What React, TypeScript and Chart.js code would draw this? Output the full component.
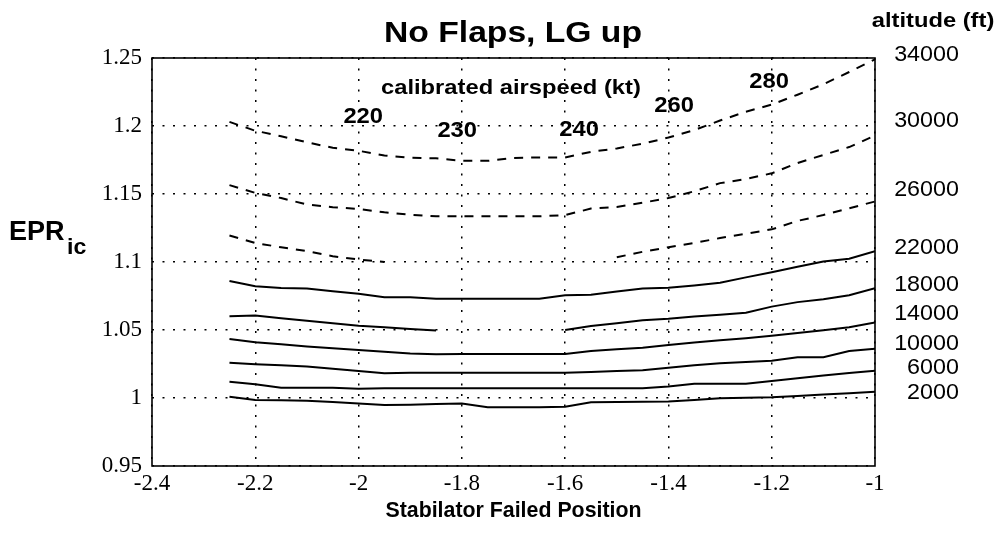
import React, { useEffect, useRef } from "react";
import { Chart, registerables } from "chart.js";

Chart.register(...registerables);

// Stabilator failed position (x)
const STAB_POS = [
  -2.25, -2.2, -2.15, -2.1, -2.05, -2.0, -1.95, -1.9, -1.85, -1.8, -1.75, -1.7, -1.65,
  -1.6, -1.55, -1.5, -1.45, -1.4, -1.35, -1.3, -1.25, -1.2, -1.15, -1.1, -1.05, -1.0,
];

// EPRic per altitude (null = not plotted)
const EPR_34000 = [
  1.203, 1.1965, 1.1925, 1.188, 1.184, 1.1818, 1.1783, 1.1766, 1.1762, 1.1744, 1.1744, 1.1765, 1.1769,
  1.1769, 1.181, 1.1835, 1.187, 1.1915, 1.197, 1.204, 1.2105, 1.2157, 1.223, 1.2307, 1.2397, 1.249,
];
const EPR_30000 = [
  1.1565, 1.1508, 1.147, 1.1423, 1.1403, 1.139, 1.1365, 1.1348, 1.1336, 1.1336, 1.1336, 1.1336, 1.1336,
  1.1345, 1.1393, 1.1405, 1.1436, 1.147, 1.152, 1.158, 1.161, 1.1652, 1.1728, 1.1787, 1.1845, 1.193,
];
const EPR_26000 = [
  1.1195, 1.114, 1.1108, 1.108, 1.1042, 1.1018, 1.1, null, null, null, null, null, null,
  null, null, 1.1035, 1.1075, 1.1108, 1.114, 1.1176, 1.1208, 1.124, 1.1302, 1.1345, 1.1395, 1.1445,
];
const EPR_22000 = [
  1.086, 1.0822, 1.0808, 1.0805, 1.0785, 1.0766, 1.0741, 1.0741, 1.0729, 1.0729, 1.0729, 1.0729, 1.0729,
  1.0755, 1.0759, 1.0783, 1.0805, 1.081, 1.0828, 1.0847, 1.0887, 1.0925, 1.0965, 1.1004, 1.1024, 1.108,
];
const EPR_18000 = [
  1.0601, 1.0606, 1.0587, 1.0568, 1.055, 1.0532, 1.052, 1.0508, 1.0496, null, null, null, null,
  1.05, 1.053, 1.055, 1.0572, 1.0582, 1.06, 1.0612, 1.0627, 1.0672, 1.0705, 1.0726, 1.0755, 1.0807,
];
const EPR_14000 = [
  1.0434, 1.041, 1.0395, 1.0378, 1.0365, 1.0353, 1.034, 1.0327, 1.0322, 1.0324, 1.0324, 1.0324, 1.0324,
  1.0324, 1.0346, 1.0358, 1.037, 1.039, 1.0408, 1.0425, 1.044, 1.0458, 1.0478, 1.0498, 1.052, 1.0555,
];
const EPR_10000 = [
  1.026, 1.0248, 1.024, 1.0232, 1.0215, 1.0199, 1.0182, 1.0185, 1.0185, 1.0185, 1.0185, 1.0185, 1.0185,
  1.0185, 1.0192, 1.0198, 1.0204, 1.0222, 1.024, 1.0255, 1.0265, 1.0274, 1.03, 1.03, 1.0345, 1.0362,
];
const EPR_6000 = [
  1.012, 1.0101, 1.0076, 1.0076, 1.0076, 1.0068, 1.0072, 1.0072, 1.0072, 1.0072, 1.0072, 1.0072, 1.0072,
  1.0072, 1.0072, 1.0072, 1.0072, 1.0085, 1.0105, 1.0105, 1.0105, 1.0125, 1.0145, 1.0165, 1.0183, 1.02,
];
const EPR_2000 = [
  1.001, 0.9985, 0.9983, 0.998, 0.997, 0.996, 0.9948, 0.995, 0.9955, 0.996, 0.9932, 0.9932, 0.9932,
  0.9935, 0.9968, 0.997, 0.9973, 0.9975, 0.9985, 0.9998, 1.0002, 1.0005, 1.0015, 1.0025, 1.0035, 1.0046,
];

const SERIES = [EPR_34000, EPR_30000, EPR_26000, EPR_22000, EPR_18000, EPR_14000, EPR_10000, EPR_6000, EPR_2000];
const ALTITUDES = ["34000", "30000", "26000", "22000", "18000", "14000", "10000", "6000", "2000"];
const DASHED = [true, true, true, false, false, false, false, false, false];

// Label anchors (EPR units) for the altitude labels on the right
const ALT_LABEL_EPR = [1.2522, 1.2037, 1.1529, 1.1103, 1.0831, 1.0618, 1.0397, 1.0221, 1.0037];

// Calibrated airspeed labels and their anchors (data units)
const SPEEDS = ["220", "230", "240", "260", "280"];
const SPEED_X = [-1.991, -1.809, -1.573, -1.389, -1.205];
const SPEED_Y = [1.2066, 1.1963, 1.1971, 1.2147, 1.2324];

const X_MIN = -2.4;
const X_MAX = -1;
const X_STEP = 0.2;
const Y_MIN = 0.95;
const Y_MAX = 1.25;
const Y_STEP = 0.05;

const SANS = "'Liberation Sans', Arial, Helvetica, sans-serif";
const SERIF = "'Liberation Serif', 'Times New Roman', serif";

function drawText(
  ctx: CanvasRenderingContext2D,
  text: string,
  x: number,
  y: number,
  font: string,
  align: CanvasTextAlign,
  baseline: CanvasTextBaseline,
  sx = 1
) {
  ctx.save();
  ctx.font = font;
  ctx.textAlign = align;
  ctx.textBaseline = baseline;
  ctx.fillStyle = "#000";
  ctx.translate(x, y);
  ctx.scale(sx, 1);
  ctx.fillText(text, 0, 0);
  ctx.restore();
}

const annotate = {
  id: "annotate",
  afterDraw(chart: any) {
    const { ctx, chartArea: a, scales } = chart;
    const xs = scales.x;
    const ys = scales.y;
    // frame
    ctx.save();
    ctx.strokeStyle = "#000";
    ctx.lineWidth = 1.6;
    ctx.setLineDash([]);
    ctx.strokeRect(a.left, a.top, a.right - a.left, a.bottom - a.top);
    ctx.restore();

    // title
    drawText(ctx, "No Flaps, LG up", 513, 42, `bold 29px ${SANS}`, "center", "alphabetic", 1.16);
    // altitude header
    drawText(ctx, "altitude (ft)", 933, 27, `bold 21px ${SANS}`, "center", "alphabetic", 1.13);
    // altitude labels
    ALTITUDES.forEach((t, i) => {
      drawText(ctx, t, a.right + 84, ys.getPixelForValue(ALT_LABEL_EPR[i]), `22px ${SANS}`, "right", "middle", 1.06);
    });
    // airspeed header
    drawText(
      ctx,
      "calibrated airspeed (kt)",
      xs.getPixelForValue(-1.705),
      ys.getPixelForValue(1.2235),
      `bold 21px ${SANS}`,
      "center",
      "alphabetic",
      1.13
    );
    SPEEDS.forEach((t, i) => {
      drawText(ctx, t, xs.getPixelForValue(SPEED_X[i]), ys.getPixelForValue(SPEED_Y[i]), `bold 22px ${SANS}`, "center", "middle", 1.08);
    });
    // y title
    drawText(ctx, "EPR", 9, 240, `bold 27px ${SANS}`, "left", "alphabetic", 1.0);
    drawText(ctx, "ic", 67, 254, `bold 22px ${SANS}`, "left", "alphabetic", 1.05);
    // x title
    drawText(ctx, "Stabilator Failed Position", (a.left + a.right) / 2, 517, `bold 22px ${SANS}`, "center", "alphabetic", 0.97);
  },
};

const fmt = (v: number | string) => String(Number(Number(v).toFixed(2)));

export default function App() {
  const ref = useRef<HTMLCanvasElement | null>(null);

  useEffect(() => {
    if (!ref.current) return;
    const datasets = SERIES.map((ys, i) => ({
      label: ALTITUDES[i],
      data: STAB_POS.map((x, j) => ({ x, y: ys[j] })),
      borderColor: "#000",
      backgroundColor: "#000",
      borderWidth: 2,
      borderDash: DASHED[i] ? [9, 8] : [],
      pointRadius: 0,
      tension: 0,
      spanGaps: false,
      fill: false,
    }));

    const chart = new Chart(ref.current, {
      type: "line",
      data: { datasets },
      plugins: [annotate],
      options: {
        animation: false,
        responsive: true,
        maintainAspectRatio: false,
        layout: { padding: { left: 0, top: 58, right: 125, bottom: 0 } },
        plugins: {
          legend: { display: false },
          tooltip: { enabled: false },
          title: { display: false },
        },
        scales: {
          x: {
            type: "linear",
            min: X_MIN,
            max: X_MAX,
            afterFit: (s: any) => {
              s.height = 81;
            },
            ticks: {
              stepSize: X_STEP,
              color: "#000",
              padding: 4,
              font: { family: SERIF, size: 23 },
              callback: (v: any) => fmt(v),
            },
            grid: { color: "#000", lineWidth: 1.5, drawTicks: false },
            border: { display: false, dash: [2, 8.5] },
          },
          y: {
            type: "linear",
            min: Y_MIN,
            max: Y_MAX,
            afterFit: (s: any) => {
              s.width = 152;
            },
            ticks: {
              stepSize: Y_STEP,
              color: "#000",
              padding: 10,
              font: { family: SERIF, size: 23 },
              callback: (v: any) => fmt(v),
            },
            grid: { color: "#000", lineWidth: 1.5, drawTicks: false },
            border: { display: false, dash: [2, 8.5] },
          },
        },
      },
    });
    return () => chart.destroy();
  }, []);

  return (
    <div style={{ position: "fixed", left: 0, top: 0, width: 1000, height: 547, background: "#fff" }}>
      <canvas ref={ref} />
    </div>
  );
}
